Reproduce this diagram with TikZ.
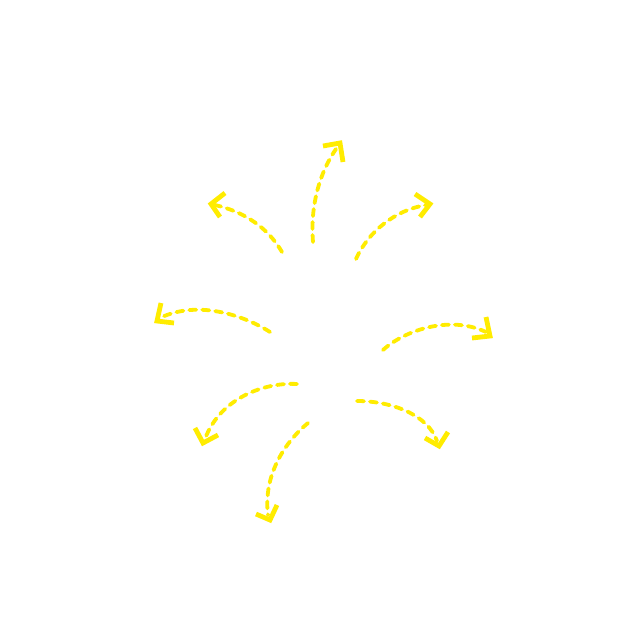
\documentclass[tikz,border=0pt]{standalone}
\begin{document}
\begin{tikzpicture}[x=1pt,y=-1pt,
  dashline/.style={draw=arrowyellow,line width=3.8pt,line cap=round,dash pattern=on 7pt off 6pt},
  chevron/.style={draw=arrowyellow,line width=4.8pt,line cap=butt,line join=miter}]
\definecolor{arrowyellow}{RGB}{255,236,0}
\useasboundingbox[fill=white] (0,0) rectangle (641,641);
% arrow 1 top center
\coordinate (s1) at (313,242); \coordinate (e1) at (336,149);
\draw[dashline] (s1) .. controls (310,205) and (320,172) .. (e1);
\draw[chevron] (323,146) -- (340,143) -- (343,162);
% arrow 2 upper left
\coordinate (s2) at (282,252); \coordinate (e2) at (215,205);
\draw[dashline] (s2) .. controls (268,228) and (245,212) .. (e2);
\draw[chevron] (225,193) -- (211,204) -- (220,217);
% arrow 3 upper right
\coordinate (s3) at (356,259); \coordinate (e3) at (426,205);
\draw[dashline] (s3) .. controls (368,232) and (395,210) .. (e3);
\draw[chevron] (415,194) -- (430,204) -- (420,217);
% arrow 4 left
\coordinate (s4) at (270,332); \coordinate (e4) at (162,317);
\draw[dashline] (s4) .. controls (245,316) and (200,300) .. (e4);
\draw[chevron] (161,303) -- (157,321) -- (174,323);
% arrow 5 right
\coordinate (s5) at (383,350); \coordinate (e5) at (486,332);
\draw[dashline] (s5) .. controls (405,330) and (450,315) .. (e5);
\draw[chevron] (486,317) -- (490,336) -- (472,338);
% arrow 6 lower left
\coordinate (s6) at (297,384); \coordinate (e6) at (205,439);
\draw[dashline] (s6) .. controls (265,382) and (220,398) .. (e6);
\draw[chevron] (195,428) -- (203,443) -- (218,435);
% arrow 7 lower center
\coordinate (s7) at (308,423); \coordinate (e7) at (268,515);
\draw[dashline] (s7) .. controls (285,442) and (263,475) .. (e7);
\draw[chevron] (256,514) -- (270,520) -- (277,505);
% arrow 8 lower right
\coordinate (s8) at (357,401); \coordinate (e8) at (437,441);
\draw[dashline] (s8) .. controls (392,401) and (428,415) .. (e8);
\draw[chevron] (425,438) -- (439,446) -- (448,432);
\end{tikzpicture}
\end{document}
